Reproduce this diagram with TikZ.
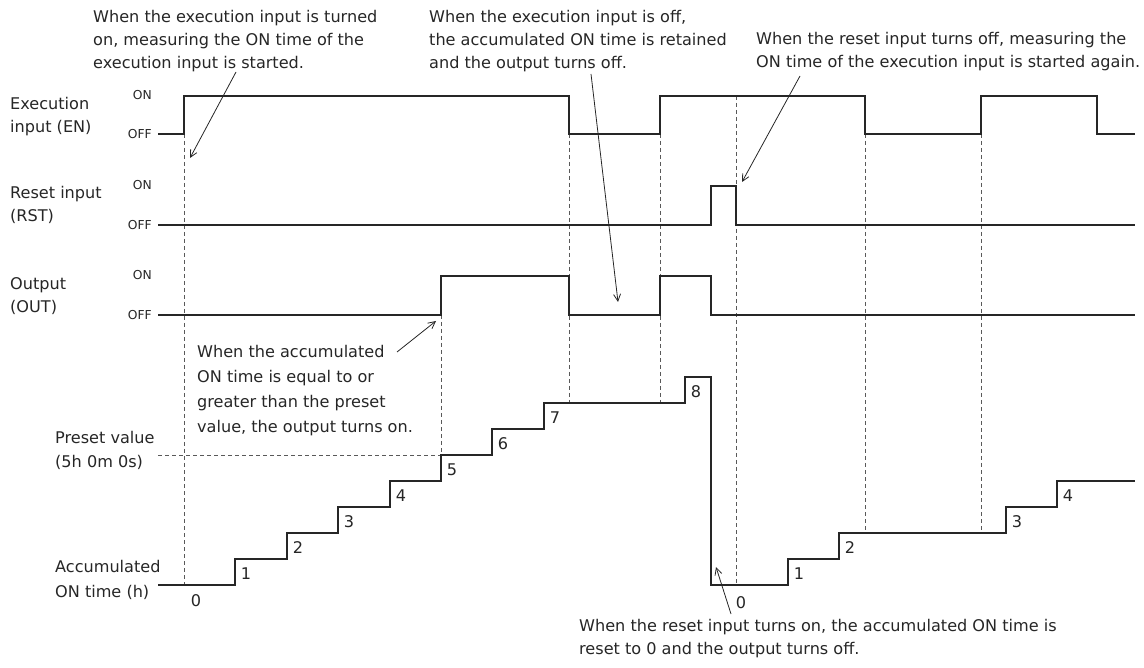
\documentclass[tikz,border=0pt]{standalone}
\usepackage{fontspec}
\setmainfont{DejaVu Sans}
\usetikzlibrary{arrows.meta}

\begin{document}
\begin{tikzpicture}[x=1pt,y=-1pt,>={Straight Barb[length=7pt,width=7pt]},
    sig/.style={line width=2.2pt,draw=black!85},
    guide/.style={line width=0.9pt,draw=black!65,dash pattern=on 4pt off 3pt},
    note/.style={->,line width=0.8pt,draw=black!85},
    txt/.style={font=\fontsize{16.1}{23}\selectfont,text=black!85,align=left,inner sep=0pt,anchor=north west},
    lvl/.style={font=\fontsize{12.3}{14}\selectfont,text=black!85,inner sep=0pt,anchor=east},
    num/.style={font=\fontsize{16.1}{18}\selectfont,text=black!85,inner sep=0pt}]

    \useasboundingbox (0,0) rectangle (1144,668);

    % ============================================
    % SIGNAL NAMES AND LEVELS
    % ============================================

    \node[txt] (lab_en) at (10,97) {Execution\\input (EN)};
    \node[txt] (lab_rst) at (10,186) {Reset input\\(RST)};
    \node[txt] (lab_out) at (10,277) {Output\\(OUT)};
    \node[txt,font=\fontsize{16.1}{24}\selectfont] (lab_pre) at (55,431) {Preset value\\(5h 0m 0s)};
    \node[txt,font=\fontsize{16.1}{25}\selectfont] (lab_acc) at (55,560) {Accumulated\\ON time (h)};

    \node[lvl] (en_on)   at (152,95)  {ON};
    \node[lvl] (en_off)  at (152,134) {OFF};
    \node[lvl] (rst_on)  at (152,185) {ON};
    \node[lvl] (rst_off) at (152,225) {OFF};
    \node[lvl] (out_on)  at (152,275) {ON};
    \node[lvl] (out_off) at (152,315) {OFF};

    % ============================================
    % GUIDE LINES (dashed)
    % ============================================

    \draw[guide] (184,134) -- (184,585);
    \draw[guide] (441,315) -- (441,455);
    \draw[guide] (158,455) -- (441,455); % preset value
    \draw[guide] (569,134) -- (569,403);
    \draw[guide] (660,134) -- (660,403);
    \draw[guide] (736,96)  -- (736,585);
    \draw[guide] (865,134) -- (865,533);
    \draw[guide] (981,134) -- (981,533);

    % ============================================
    % WAVEFORMS
    % ============================================

    % Execution input
    \draw[sig] (158,134) -| (184,96) -| (569,134) -| (660,96) -| (865,134)
               -| (981,96) -| (1097,134) -- (1135,134);

    % Reset input
    \draw[sig] (158,225) -| (711,186) -| (736,225) -- (1135,225);

    % Output
    \draw[sig] (158,315) -| (441,276) -| (569,315) -| (660,276) -| (711,315) -- (1135,315);

    % Accumulated ON time (one step = 26)
    \draw[sig] (158,585) -| (235,559) -| (287,533) -| (338,507) -| (390,481)
               -| (441,455) -| (492,429) -| (544,403) -| (685,377) -| (711,585)
               -| (788,559) -| (839,533) -| (1006,507) -| (1057,481) -- (1135,481);

    % Step values
    \node[num] (v0)  at (196,601) {0};
    \node[num] (v1)  at (246,574) {1};
    \node[num] (v2)  at (298,548) {2};
    \node[num] (v3)  at (349,522) {3};
    \node[num] (v4)  at (401,496) {4};
    \node[num] (v5)  at (452,470) {5};
    \node[num] (v6)  at (503,444) {6};
    \node[num] (v7)  at (555,418) {7};
    \node[num] (v8)  at (696,392) {8};
    \node[num] (w0)  at (741,603) {0};
    \node[num] (w1)  at (799,574) {1};
    \node[num] (w2)  at (850,548) {2};
    \node[num] (w3)  at (1017,522) {3};
    \node[num] (w4)  at (1068,496) {4};

    % ============================================
    % NOTES
    % ============================================

    \node[txt] (n_start) at (93,10)
        {When the execution input is turned\\on, measuring the ON time of the\\execution input is started.};
    \node[txt] (n_hold) at (429,10)
        {When the execution input is off,\\the accumulated ON time is retained\\and the output turns off.};
    \node[txt] (n_again) at (756,32)
        {When the reset input turns off, measuring the\\ON time of the execution input is started again.};
    \node[txt,font=\fontsize{16.1}{25}\selectfont] (n_preset) at (197,345)
        {When the accumulated\\ON time is equal to or\\greater than the preset\\value, the output turns on.};
    \node[txt] (n_reset) at (579,619)
        {When the reset input turns on, the accumulated ON time is\\reset to 0 and the output turns off.};

    % Arrow ends
    \coordinate (a1s) at (236,72);
    \coordinate (a1e) at (190,158);
    \coordinate (a2s) at (591,74);
    \coordinate (a2e) at (618,302);
    \coordinate (a3s) at (800,76);
    \coordinate (a3e) at (742,182);
    \coordinate (a4s) at (397,352);
    \coordinate (a4e) at (436,321);
    \coordinate (a5s) at (731,614);
    \coordinate (a5e) at (716,567);

    \draw[note] (a1s) -- (a1e);
    \draw[note] (a2s) -- (a2e);
    \draw[note] (a3s) -- (a3e);
    \draw[note] (a4s) -- (a4e);
    \draw[note] (a5s) -- (a5e);

\end{tikzpicture}
\end{document}
